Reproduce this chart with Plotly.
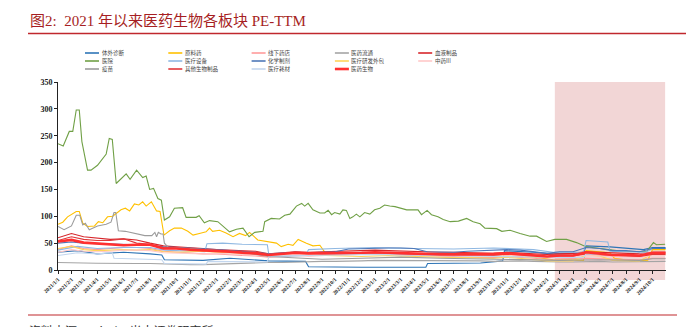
import plotly.graph_objects as go
from datetime import date

# ---------------- data ----------------
MONTHS = [f"{y}-{m:02d}-01" for y in range(2021, 2025) for m in range(1, 13) if (y, m) <= (2024, 10)]
TICK_TEXT = [f"{int(d[:4])}/{int(d[5:7])}/1" for d in MONTHS]
GRID = MONTHS + ["2024-10-31"]

# monthly-grid series (47 values)
yiyao_shengwu = [53, 56, 51, 49, 47, 46, 47, 47, 40, 40, 38, 37,
                 35, 34, 32, 31, 28, 30, 32, 31, 31, 32, 32, 32,
                 33, 32, 31, 31, 30, 29, 29, 29, 30, 30, 31, 29,
                 28, 25, 27, 27, 33, 31, 28, 28, 27, 32, 32]
xueye = [60, 68, 62, 60, 57, 58, 56, 50, 45, 43, 42, 40,
         38, 37, 36, 35, 30, 32, 34, 33, 34, 35, 35, 36,
         37, 36, 35, 34, 34, 33, 33, 32, 32, 31, 33, 31,
         30, 29, 30, 31, 34, 33, 31, 30, 30, 33, 33]
qita_shengwu = [55, 62, 57, 55, 55, 58, 50, 48, 42, 40, 38, 36,
                37, 35, 34, 33, 29, 30, 33, 32, 30, 30, 30, 30,
                31, 30, 29, 29, 28, 28, 28, 27, 27, 27, 30, 29,
                27, 25, 26, 26, 30, 29, 27, 26, 25, 29, 29]
huaxue = [50, 52, 50, 49, 48, 47, 47, 46, 43, 42, 40, 39,
          38, 36, 35, 33, 30, 32, 33, 32, 33, 34, 39, 40,
          41, 41, 41, 40, 34, 33, 33, 35, 36, 36, 38, 37,
          34, 31, 34, 34, 42, 40, 36, 36, 34, 40, 40]
xianxia = [38, 45, 40, 38, 40, 42, 42, 40, 35, 33, 32, 30,
           30, 28, 27, 26, 24, 25, 27, 26, 27, 28, 28, 29,
           30, 29, 28, 27, 26, 25, 25, 24, 24, 23, 25, 24,
           22, 20, 21, 21, 22, 21, 20, 19, 19, 22, 22]
zhongyao = [33, 38, 35, 34, 35, 37, 37, 36, 32, 31, 30, 30,
            31, 30, 30, 29, 27, 28, 29, 28, 28, 28, 29, 30,
            32, 31, 30, 30, 29, 28, 28, 27, 28, 27, 28, 27,
            25, 24, 25, 25, 27, 26, 25, 24, 24, 27, 27]
cxo = [40, 44, 38, 36, 37, 38, 37, 38, 34, 33, 34, 35,
       33, 32, 31, 30, 27, 28, 29, 28, 27, 26, 26, 25,
       26, 27, 26, 25, 24, 24, 23, 23, 23, 22, 24, 22,
       20, 17, 17, 17, 28, 26, 18, 17, 17, 30, 30]
liutong = [14, 13, 13, 12.5, 12, 12, 12, 12, 11, 10, 10, 10,
           11, 12, 13, 13, 14, 14, 15, 15, 16, 16, 16, 17,
           18, 18, 18, 18, 18, 18, 17, 17, 17, 16, 17, 17,
           16, 15, 15, 15, 16, 16, 15, 15, 15, 16, 16]

# irregular series
yiyuan_dates = ["2021-01-01", "2021-01-13", "2021-01-27", "2021-02-04", "2021-02-12", "2021-02-19", "2021-02-25",
                "2021-03-10", "2021-03-18", "2021-04-02", "2021-04-22", "2021-04-29", "2021-05-06", "2021-05-15",
                "2021-06-07", "2021-06-16", "2021-07-01", "2021-07-15", "2021-07-23", "2021-07-31", "2021-08-09",
                "2021-08-19", "2021-08-27", "2021-09-03", "2021-09-15", "2021-09-26", "2021-10-15", "2021-10-23",
                "2021-11-15", "2021-11-22", "2021-12-04", "2021-12-16", "2022-01-04", "2022-01-31", "2022-02-16",
                "2022-03-03", "2022-03-17", "2022-03-30", "2022-04-18", "2022-04-22", "2022-05-07", "2022-05-26",
                "2022-06-07", "2022-06-19", "2022-07-04", "2022-07-16", "2022-07-23", "2022-07-31", "2022-08-11",
                "2022-08-27", "2022-09-07", "2022-09-15", "2022-09-23", "2022-09-30", "2022-10-12", "2022-10-19",
                "2022-10-27", "2022-11-04", "2022-11-11", "2022-11-19", "2022-11-27", "2022-12-08", "2022-12-20",
                "2022-12-31", "2023-01-12", "2023-01-23", "2023-02-04", "2023-02-16", "2023-03-15", "2023-04-10",
                "2023-04-18", "2023-05-01", "2023-05-11", "2023-05-26", "2023-06-07", "2023-06-23", "2023-07-12",
                "2023-07-31", "2023-08-15", "2023-08-31", "2023-09-11", "2023-10-08", "2023-10-20", "2023-11-08",
                "2023-12-01", "2023-12-24", "2024-01-08", "2024-01-31", "2024-02-19", "2024-03-17", "2024-04-09",
                "2024-05-02", "2024-05-25", "2024-06-17", "2024-07-10", "2024-08-02", "2024-09-02", "2024-09-17",
                "2024-10-03", "2024-10-10", "2024-10-30"]
yiyuan = [235, 231, 258, 258, 298, 298, 239, 186, 186, 195, 216, 245, 243, 161, 179, 169, 186, 172, 175, 150, 152,
          133, 130, 93, 99, 115, 116, 98, 98, 101, 88, 92, 90, 71, 76, 78, 62, 70, 72, 90, 96, 95, 102, 104, 119,
          124, 119, 124, 112, 106, 106, 111, 103, 107, 104, 112, 111, 96, 99, 104, 99, 107, 104, 112, 115, 121, 119,
          118, 112, 112, 103, 111, 103, 99, 94, 90, 91, 96, 90, 86, 78, 77, 72, 74, 68, 63, 63, 53, 57, 57, 51, 43,
          41, 38.5, 36, 35, 34, 34, 51, 47, 48]

yuanliao_dates = ["2021-01-01", "2021-01-12", "2021-01-23", "2021-02-12", "2021-02-19", "2021-02-27", "2021-03-10",
                  "2021-03-26", "2021-04-04", "2021-04-14", "2021-04-25", "2021-05-07", "2021-05-26", "2021-06-05",
                  "2021-06-15", "2021-06-26", "2021-07-06", "2021-07-15", "2021-07-23", "2021-08-04", "2021-08-16",
                  "2021-08-24", "2021-09-02", "2021-09-15", "2021-09-26", "2021-10-12", "2021-10-27", "2021-11-08",
                  "2021-11-27", "2021-12-08", "2021-12-16", "2021-12-23", "2022-01-08", "2022-01-23", "2022-02-08",
                  "2022-02-23", "2022-03-09", "2022-03-18", "2022-04-06", "2022-04-26", "2022-05-19", "2022-05-30",
                  "2022-06-15", "2022-06-26", "2022-07-08", "2022-07-27", "2022-08-11", "2022-08-27", "2022-09-04",
                  "2022-09-10", "2022-11-01", "2023-01-01", "2023-04-01", "2023-07-01", "2023-10-01", "2024-01-01",
                  "2024-02-15", "2024-04-25", "2024-05-01", "2024-06-25", "2024-07-05", "2024-08-15", "2024-09-20",
                  "2024-10-01", "2024-10-31"]
yuanliao = [85, 89, 99, 109, 109, 87, 81, 82, 90, 88, 99, 100, 112, 115, 110, 123, 121, 127, 119, 127, 110, 109, 65,
            73, 78, 78, 72, 65, 69, 71, 78, 72, 74, 69, 62, 68, 64, 70, 56, 53, 50, 43.5, 48, 46, 57, 50, 45, 46, 37,
            30, 29, 30, 28, 27, 27, 24, 19, 18, 36, 32, 22, 17, 18, 38, 38]

yimiao_dates = ["2021-01-01", "2021-01-15", "2021-02-01", "2021-02-12", "2021-02-20", "2021-02-27", "2021-03-05",
                "2021-03-14", "2021-04-02", "2021-04-22", "2021-05-03", "2021-05-10", "2021-05-14", "2021-05-20",
                "2021-06-05", "2021-07-01", "2021-07-20", "2021-08-05", "2021-08-12", "2021-08-16", "2021-08-20",
                "2021-08-26", "2021-08-31", "2021-09-03", "2021-09-12", "2021-11-01", "2022-01-01", "2022-03-01",
                "2022-05-01", "2022-07-01", "2022-09-01", "2022-12-01", "2023-03-01", "2023-06-01", "2023-09-01",
                "2023-12-01", "2024-03-01", "2024-06-01", "2024-09-01", "2024-10-01", "2024-10-31"]
yimiao = [81, 75, 82, 102, 102, 84, 87, 75, 82, 85, 89, 107, 107, 73, 72, 67, 64, 64, 70, 62, 70, 67, 67, 50, 42,
          40, 37, 33, 25, 22, 20, 22, 24, 22, 21, 20, 18, 19, 18, 21, 21]

tiwai_dates = ["2021-01-01", "2021-02-15", "2021-04-01", "2021-06-01", "2021-08-01", "2021-08-28", "2021-09-03",
               "2021-12-01", "2022-02-01", "2022-05-01", "2022-07-25", "2022-08-01", "2022-12-01", "2023-04-28",
               "2023-05-02", "2023-09-01", "2023-10-22", "2023-10-26", "2024-01-01", "2024-02-15", "2024-04-25",
               "2024-05-01", "2024-06-25", "2024-09-10", "2024-10-01", "2024-10-31"]
tiwai = [33, 36, 30, 33, 30, 28, 19, 18, 22, 17, 16, 6, 5, 5, 12, 13, 17, 36, 33, 30, 31, 45, 43, 38, 42, 42]

shebei_dates = ["2021-01-01", "2021-02-15", "2021-04-01", "2021-06-01", "2021-08-01", "2021-09-03", "2021-12-05",
                "2021-12-10", "2022-01-15", "2022-03-01", "2022-04-28", "2022-05-02", "2022-07-25", "2022-08-01",
                "2022-10-01", "2023-01-01", "2023-04-01", "2023-07-01", "2023-10-01", "2024-01-01", "2024-02-15",
                "2024-04-25", "2024-05-01", "2024-06-20", "2024-06-25", "2024-08-15", "2024-09-15", "2024-10-01",
                "2024-10-31"]
shebei = [37, 44, 40, 42, 42, 37, 34, 49, 50, 48, 47, 25, 27, 38, 40, 42, 40, 39, 41, 38, 33, 33, 55, 52, 35, 33,
          33, 40, 40]

haocai_dates = ["2021-01-01", "2021-02-15", "2021-04-01", "2021-05-06", "2021-05-10", "2021-07-01", "2021-08-28",
                "2021-09-03", "2021-12-08", "2021-12-12", "2022-04-28", "2022-05-02", "2022-09-01", "2023-01-01",
                "2023-05-01", "2023-09-01", "2024-01-01", "2024-04-25", "2024-05-01", "2024-08-15", "2024-10-01",
                "2024-10-31"]
haocai = [27, 32, 30, 32, 22, 20, 19, 12, 11, 16, 15, 26, 27, 29, 27, 26, 24, 23, 30, 27, 33, 33]

HIGHLIGHT = ["2024-02-19", "2024-10-30"]

# name, dates, values, color, width  (legend order)
SERIES = [
    ("体外诊断", tiwai_dates, tiwai, "#2E75B6", 1.1),
    ("原料药", yuanliao_dates, yuanliao, "#FFC000", 1.1),
    ("线下药店", GRID, xianxia, "#FF9B9B", 1.1),
    ("医药流通", GRID, liutong, "#A5A5A5", 1.1),
    ("血液制品", GRID, xueye, "#D7262B", 1.1),
    ("医院", yiyuan_dates, yiyuan, "#70A046", 1.1),
    ("医疗设备", shebei_dates, shebei, "#8FB8E2", 1.1),
    ("化学制剂", GRID, huaxue, "#4E78B8", 1.1),
    ("医疗研发外包", GRID, cxo, "#FFD45A", 1.1),
    ("中药III", GRID, zhongyao, "#FFC8C8", 1.1),
    ("疫苗", yimiao_dates, yimiao, "#9C9C9C", 1.1),
    ("其他生物制品", GRID, qita_shengwu, "#E0383A", 1.1),
    ("医疗耗材", haocai_dates, haocai, "#C3D6EE", 1.1),
    ("医药生物", GRID, yiyao_shengwu, "#FF3030", 2.6),
]

# ---------------- layout helpers ----------------
W, H = 686, 327
L, R, T, B = 58, 20, 82, 57
PW, PH = W - L - R, H - T - B


def pxx(x):
    return (x - L) / PW


def pxy(y):
    return (H - B - y) / PH


CJK = "Noto Sans CJK SC"
SERIF = "Liberation Serif, Noto Sans CJK SC"

fig = go.Figure()
for name, xs, ys, col, w in SERIES:
    fig.add_trace(go.Scatter(x=xs, y=ys, mode="lines", name=name,
                             line=dict(color=col, width=w), showlegend=False, hoverinfo="skip"))

x_start, x_end = "2021-01-01", "2024-11-01"
d0, d1 = date.fromisoformat(x_start), date.fromisoformat(x_end)


def xfrac(s):
    return (date.fromisoformat(s) - d0).days / (d1 - d0).days


shapes = [
    dict(type="rect", xref="x domain", yref="paper", x0=xfrac(HIGHLIGHT[0]), x1=xfrac(HIGHLIGHT[1]),
         y0=pxy(280), y1=1.0, fillcolor="rgba(236,196,196,0.7)", line=dict(width=0), layer="below"),
    dict(type="line", xref="paper", yref="paper", x0=pxx(28), x1=pxx(686), y0=pxy(33.5), y1=pxy(33.5),
         line=dict(color="#C0282D", width=1.5)),
    dict(type="line", xref="paper", yref="paper", x0=pxx(28), x1=pxx(677), y0=pxy(315), y1=pxy(315),
         line=dict(color="#C0282D", width=1.2)),
]

annotations = [
    dict(text="图2:  2021 年以来医药生物各板块 PE-TTM", xref="paper", yref="paper", x=pxx(28), y=pxy(21),
         xanchor="left", yanchor="middle", showarrow=False,
         font=dict(family=SERIF, size=15, color="#A61E22")),
    dict(text="资料来源：Wind，光大证券研究所", xref="paper", yref="paper", x=pxx(27), y=pxy(320),
         xanchor="left", yanchor="top", showarrow=False,
         font=dict(family=CJK, size=12, color="#333333")),
]

# manual legend: 5 columns x 3 rows
col_x = [85, 168.3, 251.6, 334.9, 418.2]
row_y = [53.0, 61.0, 69.0]
for i, (name, xs, ys, col, w) in enumerate(SERIES):
    r, c = divmod(i, 5)
    lx, ly = col_x[c], row_y[r]
    shapes.append(dict(type="line", xref="paper", yref="paper", x0=pxx(lx), x1=pxx(lx + 14),
                       y0=pxy(ly), y1=pxy(ly), line=dict(color=col, width=2.6 if w > 2 else 1.6)))
    annotations.append(dict(text=name, xref="paper", yref="paper", x=pxx(lx + 15.5), y=pxy(ly),
                            xanchor="left", yanchor="middle", showarrow=False, borderpad=0,
                            font=dict(family=CJK, size=5.5, color="#444444")))

fig.update_layout(
    width=W, height=H, margin=dict(l=L, r=R, t=T, b=B, autoexpand=False),
    paper_bgcolor="white", plot_bgcolor="rgba(0,0,0,0)",
    shapes=shapes, annotations=annotations,
    xaxis=dict(type="date", range=[x_start, x_end], tickvals=MONTHS, ticktext=TICK_TEXT, tickangle=-45,
               showgrid=False, zeroline=False, showline=True, linecolor="#222222", linewidth=1,
               ticks="outside", ticklen=3, tickcolor="#222222",
               tickfont=dict(family="Liberation Serif", size=5.5, color="#222222", weight="bold")),
    yaxis=dict(range=[0, 350], dtick=50, showgrid=False, zeroline=False, showline=True,
               linecolor="#222222", linewidth=1, ticks="outside", ticklen=3, tickcolor="#222222",
               tickfont=dict(family="Liberation Serif", size=8, color="#222222", weight="bold")),
    showlegend=False,
)

fig.write_html("out.html")
